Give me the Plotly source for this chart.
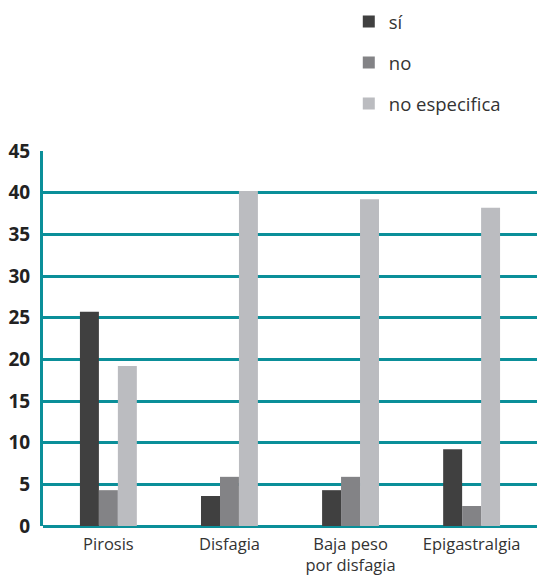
import plotly.graph_objects as go

categories = ["Pirosis", "Disfagia", "Baja peso<br>por disfagia", "Epigastralgia"]
si = [25.7, 3.6, 4.3, 9.2]
no = [4.3, 5.9, 5.9, 2.4]
no_especifica = [19.2, 40.2, 39.2, 38.2]

series = [
    ("sí", si, "#404040"),
    ("no", no, "#838386"),
    ("no especifica", no_especifica, "#bbbcc0"),
]

teal = "#0b8f99"

fig = go.Figure()
for i, (name, vals, color) in enumerate(series):
    fig.add_trace(go.Bar(
        name=name, x=categories, y=vals,
        marker=dict(color=color, line=dict(width=0)),
        legendgroup=f"g{i}",
    ))

fig.update_layout(
    width=537, height=578,
    margin=dict(l=43, r=0, t=151, b=52, autoexpand=False),
    paper_bgcolor="white", plot_bgcolor="white",
    barmode="group", bargap=0.53, bargroupgap=0,
    font=dict(family="Open Sans", color="#333333"),
    legend=dict(
        x=0.619, y=1.395, xanchor="left", yanchor="top",
        orientation="v", traceorder="grouped", tracegroupgap=14,
        font=dict(size=18.5, color="#333333"),
        bgcolor="rgba(0,0,0,0)",
    ),
    showlegend=True,
)
fig.update_xaxes(
    range=[-0.54, 3.54], showgrid=False, showline=False, ticks="",
    ticklabelstandoff=6,
    tickfont=dict(size=16.5, color="#333333"),
)
fig.update_yaxes(
    range=[0, 45], dtick=5, showgrid=True, gridcolor=teal, gridwidth=3,
    zeroline=True, zerolinecolor=teal, zerolinewidth=3,
    showline=True, linecolor=teal, linewidth=3,
    ticks="", ticklabelstandoff=6,
    tickfont=dict(size=19, color="#222222", weight="bold"),
)

fig.write_html("out.html")
